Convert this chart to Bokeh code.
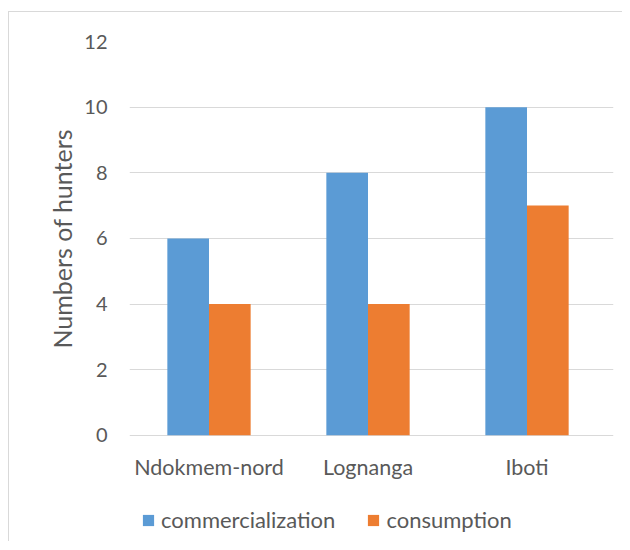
import math
from bokeh.plotting import figure
from bokeh.models import ColumnDataSource, FixedTicker, Range1d, Legend, LegendItem, Title
from bokeh.transform import dodge
from bokeh.core.properties import value
from bokeh.embed import file_html
from bokeh.resources import INLINE

categories = ["Ndokmem-nord", "Lognanga", "Iboti"]
commercialization = [6, 8, 10]
consumption = [4, 4, 7]
y_ticks = [0, 2, 4, 6, 8, 10, 12]

FONT = "Lato"
TXT = "#595959"
GRID = "#d9d9d9"

src = ColumnDataSource(dict(
    x=list(range(len(categories))),
    com=commercialization,
    con=consumption,
    zero=[0] * len(categories),
    cat=categories,
))

# frame extends below the zero line so the legend fits inside it
px_per_unit = (434 - 41) / 12.0
y_start = -(538 - 434) / px_per_unit

p = figure(width=614, height=530, output_backend="svg", toolbar_location=None,
           x_range=Range1d(-0.5, 2.544), y_range=Range1d(y_start, 12),
           min_border_left=120, min_border_right=10, min_border_top=29,
           min_border_bottom=3)
p.styles = {"border-left": "1px solid #d9d9d9", "border-top": "1px solid #d9d9d9",
            "margin-top": "11px", "margin-left": "8px"}
p.outline_line_color = None

bw = 0.262
r1 = p.vbar(x=dodge("x", -bw / 2, range=p.x_range), top="com", width=bw, source=src,
            fill_color="#5b9bd5", line_color=None)
r2 = p.vbar(x=dodge("x", bw / 2, range=p.x_range), top="con", width=bw, source=src,
            fill_color="#ed7d31", line_color=None)

p.xgrid.visible = False
p.ygrid.grid_line_color = GRID
p.ygrid.grid_line_width = 1
p.ygrid.ticker = FixedTicker(ticks=y_ticks)
p.xaxis.visible = False

# category labels under the zero line
p.text(x="x", y="zero", text="cat", source=src, y_offset=32,
       text_align="center", text_baseline="middle",
       text_font=value(FONT), text_font_size="21.5px", text_color=TXT)

p.yaxis.ticker = FixedTicker(ticks=y_ticks)
p.yaxis.axis_line_color = None
p.yaxis.major_tick_line_color = None
p.yaxis.minor_tick_line_color = None
p.yaxis.major_label_standoff = 16
p.yaxis.major_label_text_font = FONT
p.yaxis.major_label_text_font_size = "20px"
p.yaxis.major_label_text_color = TXT

ytitle = Title(text="Numbers of hunters", align="left", offset=191,
               text_font=FONT, text_font_size="25px", text_font_style="normal",
               text_color=TXT, standoff=10)
p.add_layout(ytitle, "left")

legend = Legend(items=[LegendItem(label="commercialization", renderers=[r1]),
                       LegendItem(label="consumption", renderers=[r2])],
                orientation="horizontal", location=(12, 6),
                glyph_width=14, glyph_height=14, label_standoff=6, spacing=31,
                padding=0, margin=0, border_line_color=None,
                background_fill_alpha=0,
                label_text_font=FONT, label_text_font_size="22px",
                label_text_color=TXT)
p.add_layout(legend, "center")

open("out.html", "w").write(file_html(p, INLINE))
